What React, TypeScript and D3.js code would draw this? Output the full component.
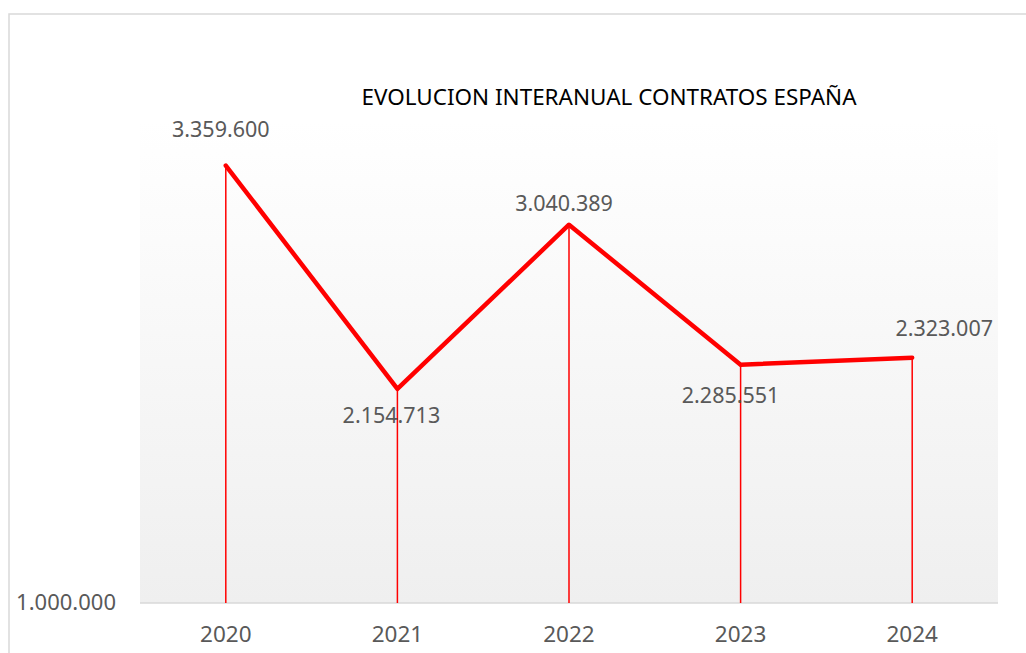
import * as d3 from 'd3'
import { FC } from 'react'

// data
const years = ['2020', '2021', '2022', '2023', '2024']
const contratos = [3359600, 2154713, 3040389, 2285551, 2323007]
const yTicks = [1000000]
// label offsets per point (Excel-like manual placement)
const labelOffsets: [number, number][] = [
  [-5, -29],
  [-6, 34],
  [-5, -14],
  [-10, 38],
  [32, -22],
]

const width = 1026
const height = 653
const margin = { top: 121, left: 140, right: 28, bottom: 50 }
const font = '"Noto Sans", "Open Sans", sans-serif'

const fmt = (v: number) => d3.format(',')(v).replace(/,/g, '.')

const App: FC = () => {
  const x = d3
    .scaleBand()
    .domain(years)
    .range([margin.left, width - margin.right])
  const y = d3
    .scaleLinear()
    .domain([1000000, 3600000])
    .range([height - margin.bottom, margin.top])

  const cx = (d: string) => (x(d) as number) + x.bandwidth() / 2
  const baseY = y(1000000)

  const line = d3
    .line<number>()
    .x((_, i) => cx(years[i]))
    .y((d) => y(d))

  return (
    <svg
      width={width}
      height={height}
      style={{ position: 'absolute', left: 0, top: 0, background: '#fff' }}
    >
      <defs>
        <linearGradient id='plotBg' x1='0' y1='0' x2='0' y2='1'>
          <stop offset='0%' stopColor='#ffffff' />
          <stop offset='100%' stopColor='#efefef' />
        </linearGradient>
      </defs>
      {/* chart frame */}
      <rect x={9} y={14} width={1040} height={660} fill='none' stroke='#d9d9d9' strokeWidth={1.5} />
      {/* plot area */}
      <rect
        x={margin.left}
        y={margin.top}
        width={width - margin.left - margin.right}
        height={baseY - margin.top}
        fill='url(#plotBg)'
      />
      {/* title */}
      <text
        x={609}
        y={105}
        textAnchor='middle'
        fontFamily={font}
        fontSize={22}
        fill='#000'
        textLength={495}
        lengthAdjust='spacingAndGlyphs'
      >
        EVOLUCION INTERANUAL CONTRATOS ESPAÑA
      </text>
      {/* x axis line */}
      <line
        x1={margin.left}
        x2={width - margin.right}
        y1={baseY}
        y2={baseY}
        stroke='#d9d9d9'
        strokeWidth={1.5}
      />
      {/* y tick */}
      {yTicks.map((t) => (
        <text
          key={t}
          x={116}
          y={y(t) + 7}
          textAnchor='end'
          fontFamily={font}
          fontSize={22}
          fill='#595959'
        >
          {fmt(t)}
        </text>
      ))}
      {/* x labels */}
      {years.map((yr) => (
        <text
          key={yr}
          x={cx(yr)}
          y={642}
          textAnchor='middle'
          fontFamily={font}
          fontSize={22.5}
          fill='#595959'
        >
          {yr}
        </text>
      ))}
      {/* drop lines */}
      {contratos.map((v, i) => (
        <line
          key={i}
          x1={cx(years[i])}
          x2={cx(years[i])}
          y1={y(v)}
          y2={baseY}
          stroke='#ff0000'
          strokeWidth={1.5}
        />
      ))}
      {/* main line */}
      <path
        d={line(contratos) as string}
        fill='none'
        stroke='#ff0000'
        strokeWidth={4.5}
        strokeLinejoin='round'
        strokeLinecap='round'
      />
      {/* data labels */}
      {contratos.map((v, i) => (
        <text
          key={i}
          x={cx(years[i]) + labelOffsets[i][0]}
          y={y(v) + labelOffsets[i][1]}
          textAnchor='middle'
          fontFamily={font}
          fontSize={21.5}
          fill='#595959'
        >
          {fmt(v)}
        </text>
      ))}
    </svg>
  )
}

export default App
